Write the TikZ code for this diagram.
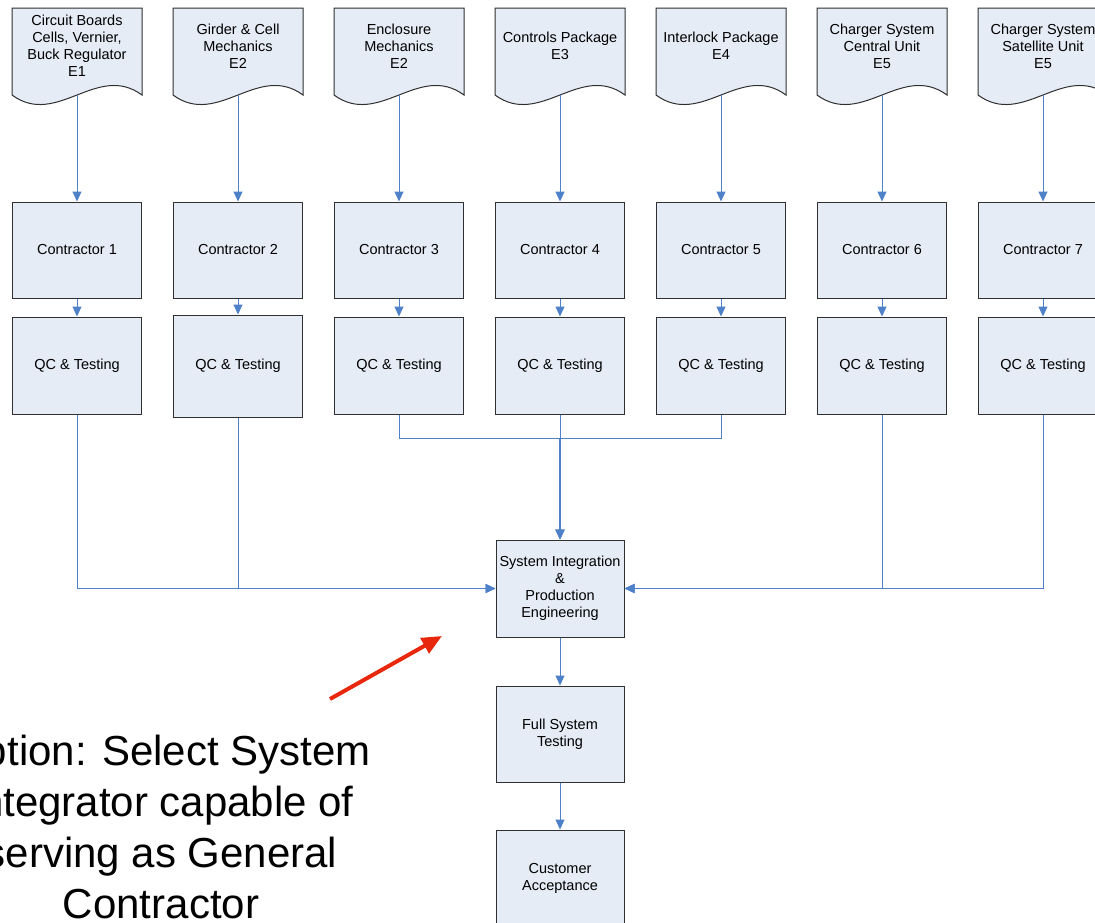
\documentclass[tikz,border=0pt]{standalone}
\usepackage{fontspec}
\setmainfont{Liberation Sans}
\usetikzlibrary{arrows.meta}
\definecolor{boxfill}{HTML}{E6ECF6}
\definecolor{boxline}{HTML}{303030}
\definecolor{connblue}{HTML}{4F81C9}
\definecolor{redarr}{HTML}{E8280C}
\tikzset{
  box/.style={draw=boxline, fill=boxfill, line width=1pt, minimum width=129, minimum height=96,
    inner sep=0, align=center, font=\fontsize{14.5}{17}\selectfont},
  docline/.style={draw=boxline, fill=boxfill, line width=1pt},
  doctext/.style={inner sep=0, align=center, font=\fontsize{14.5}{17}\selectfont},
  connline/.style={draw=connblue, line width=1pt},
  conn/.style={connline, -{Triangle[length=10pt,width=9pt]}},
  redline/.style={draw=redarr, line width=4pt, -{Triangle[length=20pt,width=17pt]}},
  bigtext/.style={inner sep=0, align=center, font=\fontsize{42}{51}\selectfont}
}
\newcommand\docsh[3]{%
  \draw[docline] (#2-65,95) -- (#2-65,8) -- (#2+65,8) -- (#2+65,95)
     .. controls (#2+20,62) and (#2-20,128) .. (#2-65,95) -- cycle;
  \node[doctext] (d#1) at (#2,46) {#3};
  \coordinate (d#1b) at (#2,95);
}
\begin{document}
\begin{tikzpicture}[x=1pt,y=-1pt]
\useasboundingbox (0,0) rectangle (1095,922);
\clip (0,0) rectangle (1095,922);
\fill[white] (0,0) rectangle (1095,922);

\docsh{1}{77}{Circuit Boards\\Cells, Vernier,\\Buck Regulator\\E1}
\docsh{2}{238}{Girder \& Cell\\Mechanics\\E2}
\docsh{3}{399}{Enclosure\\Mechanics\\E2}
\docsh{4}{560}{Controls Package\\E3}
\docsh{5}{721}{Interlock Package\\E4}
\docsh{6}{882}{Charger System\\Central Unit\\E5}
\docsh{7}{1043}{Charger System\\Satellite Unit\\E5}

\node[box] (c1) at (77,250) {Contractor 1};
\node[box] (c2) at (238,250) {Contractor 2};
\node[box] (c3) at (399,250) {Contractor 3};
\node[box] (c4) at (560,250) {Contractor 4};
\node[box] (c5) at (721,250) {Contractor 5};
\node[box] (c6) at (882,250) {Contractor 6};
\node[box] (c7) at (1043,250) {Contractor 7};

\node[box, minimum height=97] (q1) at (77,365.5) {QC \& Testing};
\node[box, minimum height=102] (q2) at (238,366) {QC \& Testing};
\node[box, minimum height=97] (q3) at (399,365.5) {QC \& Testing};
\node[box, minimum height=97] (q4) at (560,365.5) {QC \& Testing};
\node[box, minimum height=97] (q5) at (721,365.5) {QC \& Testing};
\node[box, minimum height=97] (q6) at (882,365.5) {QC \& Testing};
\node[box, minimum height=97] (q7) at (1043,365.5) {QC \& Testing};

\node[box, minimum width=128, minimum height=97] (si) at (560,588.5) {System Integration\\\&\\Production\\Engineering};
\node[box, minimum width=128] (fst) at (560,734) {Full System\\Testing};
\node[box, minimum width=128] (ca) at (560,878) {Customer\\Acceptance};

\foreach \i in {1,...,7} {
  \draw[conn] (d\i b) -- (c\i);
  \draw[conn] (c\i) -- (q\i);
}
\coordinate (jn) at (560,438);
\draw[conn] (q1) |- (si);
\draw[conn] (q2) |- (si);
\draw[conn] (q3) |- (jn) -- (si);
\draw[connline] (q4) -- (jn);
\draw[conn, line width=2pt] (jn) -- (si);
\draw[conn] (q5) |- (jn) -- (si);
\draw[conn] (q6) |- (si);
\draw[conn] (q7) |- (si);
\draw[conn] (si) -- (fst);
\draw[conn] (fst) -- (ca);

\coordinate (rt) at (330,699);
\coordinate (rh) at (442,636);
\draw[redline] (rt) -- (rh);

\node[bigtext, anchor=north] (opt) at (161,735) {Option: Select System\\Integrator capable of\\serving as General\\Contractor};
\end{tikzpicture}
\end{document}
